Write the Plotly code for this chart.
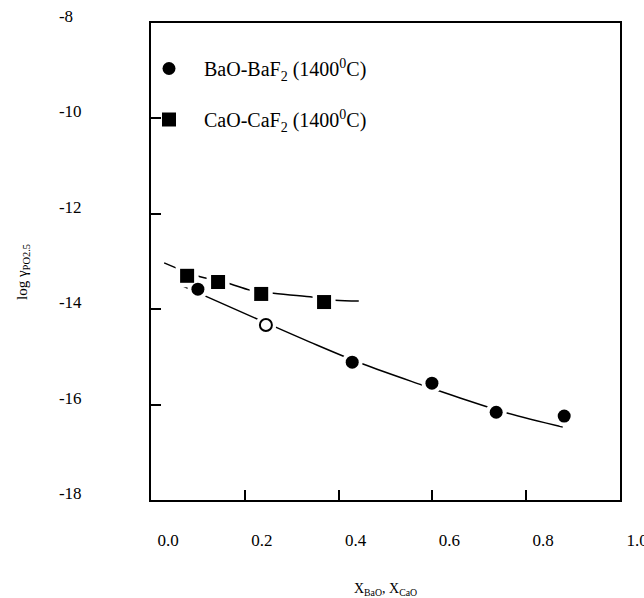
import plotly.graph_objects as go

# Data
ba_x = [0.100, 0.429, 0.599, 0.736, 0.881]
ba_y = [-13.58, -15.11, -15.55, -16.16, -16.24]
ba_open_x = [0.245]
ba_open_y = [-14.33]
ca_x = [0.077, 0.143, 0.235, 0.369]
ca_y = [-13.30, -13.43, -13.68, -13.85]

ba_fit_x = [0.062, 0.232, 0.339, 0.452, 0.578, 0.659, 0.761, 0.878]
ba_fit_y = [-13.49, -14.23, -14.69, -15.15, -15.59, -15.86, -16.18, -16.47]
ca_fit_x = [0.028, 0.098, 0.162, 0.211, 0.254, 0.339, 0.392, 0.443]
ca_fit_y = [-13.03, -13.30, -13.45, -13.60, -13.66, -13.74, -13.81, -13.83]

x_ticks = [0.0, 0.2, 0.4, 0.6, 0.8, 1.0]
x_labels = ["0.0", "0.2", "0.4", "0.6", "0.8", "1.0"]
y_ticks = [-18, -16, -14, -12, -10, -8]
y_labels = ["-18", "-16", "-14", "-12", "-10", "-8\u2007"]

FONT = "Liberation Serif, Times New Roman, serif"

fig = go.Figure()
fig.add_trace(go.Scatter(x=ba_fit_x, y=ba_fit_y, mode="lines", line=dict(color="black", width=1.5, shape="spline"),
                         showlegend=False, hoverinfo="skip"))
fig.add_trace(go.Scatter(x=ca_fit_x, y=ca_fit_y, mode="lines", line=dict(color="black", width=1.5, shape="spline"),
                         showlegend=False, hoverinfo="skip"))
# white halos
fig.add_trace(go.Scatter(x=ba_x + ba_open_x, y=ba_y + ba_open_y, mode="markers",
                         marker=dict(symbol="circle", size=21, color="white"), showlegend=False, hoverinfo="skip"))
fig.add_trace(go.Scatter(x=ca_x, y=ca_y, mode="markers",
                         marker=dict(symbol="square", size=23, color="white"), showlegend=False, hoverinfo="skip"))
# markers
fig.add_trace(go.Scatter(x=ba_x, y=ba_y, mode="markers", name="BaO-BaF<sub>2</sub> (1400<sup>0</sup>C)",
                         legendgroup="a",
                         marker=dict(symbol="circle", size=13, color="black")))
fig.add_trace(go.Scatter(x=ba_open_x, y=ba_open_y, mode="markers", showlegend=False,
                         marker=dict(symbol="circle", size=12, color="white", line=dict(color="black", width=2))))
fig.add_trace(go.Scatter(x=ca_x, y=ca_y, mode="markers", name="CaO-CaF<sub>2</sub> (1400<sup>0</sup>C)",
                         legendgroup="b",
                         marker=dict(symbol="square", size=14, color="black")))

fig.update_layout(
    width=644, height=598,
    margin=dict(l=151, r=24, t=23, b=98, autoexpand=False),
    paper_bgcolor="white", plot_bgcolor="white",
    font=dict(family=FONT, color="black", size=17),
    legend=dict(xref="container", yref="container", x=134 / 644, y=1 - 49 / 598,
                xanchor="left", yanchor="top", itemwidth=60, tracegroupgap=22,
                font=dict(size=20, family=FONT), bgcolor="rgba(0,0,0,0)"),
    xaxis=dict(range=[0, 1], tickmode="array", tickvals=x_ticks, ticktext=x_labels, automargin=False,
               showgrid=False, zeroline=False, showline=True, linecolor="black", linewidth=2,
               mirror=True, ticks="inside", ticklen=10, tickwidth=1.5, tickcolor="black",
               ticklabelstandoff=24, ticklabelshift=17, ticklabeloverflow="allow",
               tickfont=dict(family=FONT, size=17),
               title=dict(text="X<sub>BaO</sub>, X<sub>CaO</sub>", font=dict(size=14, family=FONT), standoff=36)),
    yaxis=dict(range=[-18, -8], tickmode="array", tickvals=y_ticks, ticktext=y_labels, automargin=False,
               showgrid=False, zeroline=False, showline=True, linecolor="black", linewidth=2,
               mirror=True, ticks="inside", ticklen=10, tickwidth=1.5, tickcolor="black",
               ticklabelstandoff=64, ticklabelshift=-7, ticklabeloverflow="allow",
               tickfont=dict(family=FONT, size=17)),
    annotations=[dict(text="log γ<sub>PO2.5</sub>", xref="paper", yref="paper",
                      x=-128 / 469, y=(500 - 272) / 477, xanchor="center", yanchor="middle",
                      textangle=-90, showarrow=False, font=dict(size=15, family=FONT))],
)

fig.write_html("out.html")
